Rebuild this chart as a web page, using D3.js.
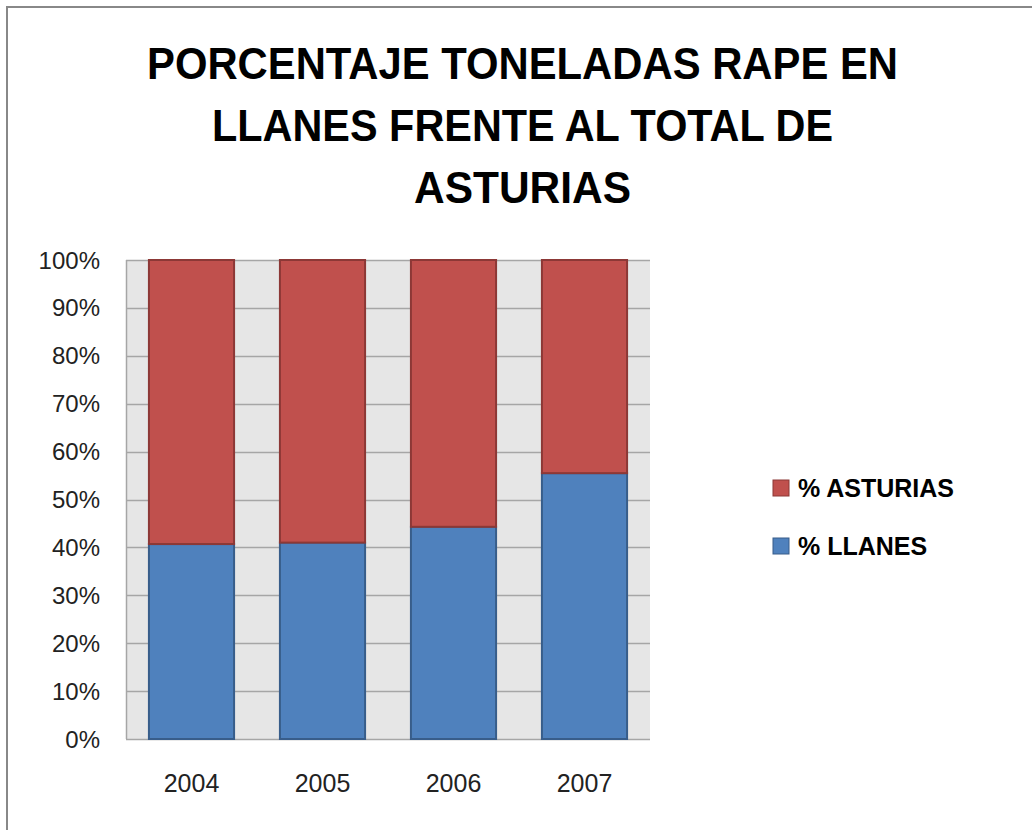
<!DOCTYPE html>
<html>
<head>
<meta charset="utf-8">
<script src="https://cdn.jsdelivr.net/npm/d3@7"></script>
<style>
  body { margin: 0; background: #fff; }
  svg { display: block; font-family: "Liberation Sans", "DejaVu Sans", sans-serif; }
</style>
</head>
<body>
<script>
'use strict';

const years = ["2004", "2005", "2006", "2007"]
const llanes = [0.407, 0.41, 0.443, 0.555]
const asturias = [0.593, 0.59, 0.557, 0.445]
const yTicks = [0, 0.1, 0.2, 0.3, 0.4, 0.5, 0.6, 0.7, 0.8, 0.9, 1]
const titleLines = ["PORCENTAJE TONELADAS RAPE EN", "LLANES FRENTE AL TOTAL DE", "ASTURIAS"]
const seriesNames = ["% ASTURIAS", "% LLANES"]

const W = 1032, H = 830
const plot = { left: 126, right: 650, top: 260, bottom: 739 }

const svg = d3.select("body").append("svg")
    .attr("width", W)
    .attr("height", H)

// outer frame
svg.append("rect")
    .attr("x", 7).attr("y", 7)
    .attr("width", W + 10).attr("height", H + 10)
    .attr("fill", "#fff")
    .attr("stroke", "#888")
    .attr("stroke-width", 2)

// title
const titleWidths = [751, 621, 217]
svg.append("g").selectAll("text")
    .data(titleLines)
    .enter()
    .append("text")
    .attr("x", 522.5)
    .attr("y", (d, i) => 79 + i * 62)
    .attr("text-anchor", "middle")
    .attr("font-size", "44px")
    .attr("font-weight", "bold")
    .attr("fill", "#000")
    .attr("textLength", (d, i) => titleWidths[i])
    .attr("lengthAdjust", "spacingAndGlyphs")
    .text(d => d)

const x = d3.scaleBand()
    .domain(years)
    .range([plot.left, plot.right])
    .paddingInner(0.35)
    .paddingOuter(0.175)

const y = d3.scaleLinear()
    .domain([0, 1])
    .range([plot.bottom, plot.top])

// plot background
svg.append("rect")
    .attr("x", plot.left).attr("y", plot.top)
    .attr("width", plot.right - plot.left)
    .attr("height", plot.bottom - plot.top)
    .attr("fill", "#e6e6e6")

// gridlines
svg.append("g").selectAll("line")
    .data(yTicks)
    .enter()
    .append("line")
    .attr("x1", plot.left).attr("x2", plot.right)
    .attr("y1", d => Math.round(y(d)) + 0.5)
    .attr("y2", d => Math.round(y(d)) + 0.5)
    .attr("stroke", "#a6a6a6")
    .attr("stroke-width", 1.5)

// left axis line
svg.append("line")
    .attr("x1", plot.left + 0.5).attr("x2", plot.left + 0.5)
    .attr("y1", plot.top).attr("y2", plot.bottom)
    .attr("stroke", "#a6a6a6")
    .attr("stroke-width", 1.5)

// y labels
svg.append("g").selectAll("text")
    .data(yTicks)
    .enter()
    .append("text")
    .attr("x", 100)
    .attr("y", d => y(d) + 8.5)
    .attr("text-anchor", "end")
    .attr("font-size", "24px")
    .attr("fill", "#222")
    .text(d => d3.format(".0%")(d))

// stacked bars
const rows = years.map((yr, i) => ({ year: yr, llanes: llanes[i], asturias: asturias[i] }))
const stack = d3.stack().keys(["llanes", "asturias"])(rows)
const fills = { llanes: "#4f81bd", asturias: "#c0504d" }
const strokes = { llanes: "#385d8a", asturias: "#8c3836" }

stack.forEach(function (layer) {
    svg.append("g").selectAll("rect")
        .data(layer)
        .enter()
        .append("rect")
        .attr("x", d => x(d.data.year))
        .attr("y", d => y(d[1]))
        .attr("width", x.bandwidth())
        .attr("height", d => y(d[0]) - y(d[1]))
        .attr("fill", fills[layer.key])
        .attr("stroke", strokes[layer.key])
        .attr("stroke-width", 2)
})

// x labels
svg.append("g").selectAll("text")
    .data(years)
    .enter()
    .append("text")
    .attr("x", d => x(d) + x.bandwidth() / 2)
    .attr("y", 792)
    .attr("text-anchor", "middle")
    .attr("font-size", "25px")
    .attr("fill", "#222")
    .text(d => d)

// legend
const legendKeys = ["asturias", "llanes"]
const legend = svg.append("g").selectAll("g")
    .data(seriesNames)
    .enter()
    .append("g")
    .attr("transform", (d, i) => "translate(773," + (480 + i * 58) + ")")

legend.append("rect")
    .attr("width", 16).attr("height", 16)
    .attr("fill", (d, i) => fills[legendKeys[i]])
    .attr("stroke", (d, i) => strokes[legendKeys[i]])
    .attr("stroke-width", 1)

legend.append("text")
    .attr("x", 25)
    .attr("y", 17)
    .attr("font-size", "25px")
    .attr("font-weight", "bold")
    .attr("fill", "#000")
    .text(d => d)
</script>
</body>
</html>
